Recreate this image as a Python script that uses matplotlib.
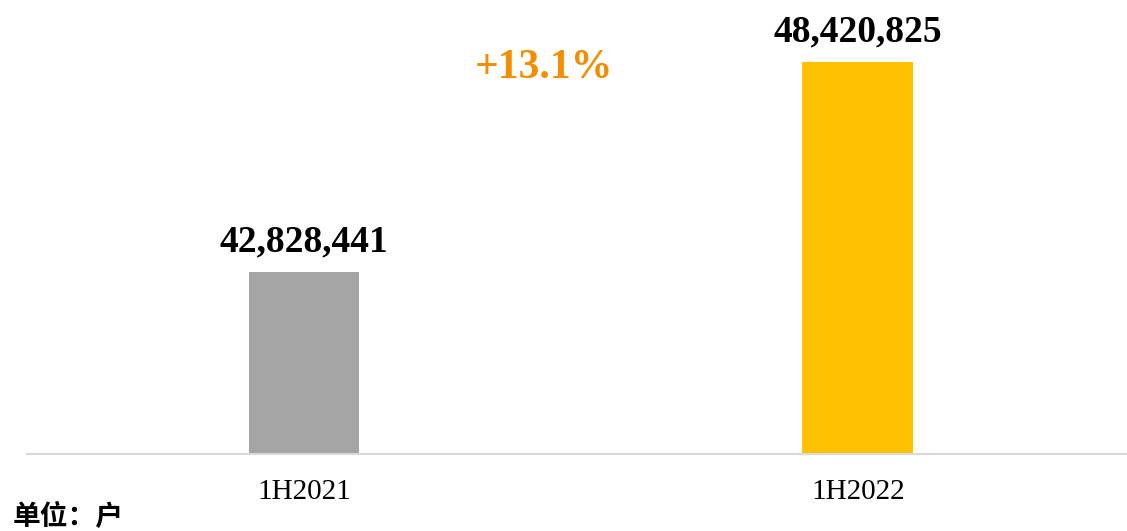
import matplotlib.pyplot as plt

# data
periods = ['1H2021', '1H2022']
users = [42828441, 48420825]
bar_colors = ['#A5A5A5', '#FFC000']
growth_label = '+13.1%'
unit_label = '单位：户'

serif = 'Liberation Serif'

fig = plt.figure(figsize=(11.27, 5.31), dpi=100)
ax = fig.add_axes([0.024, 0.145, 0.976, 0.851])

x = list(range(len(periods)))
bars = ax.bar(x, users, width=0.2, color=bar_colors, zorder=2)

for b, v in zip(bars, users):
    ax.annotate(f'{v:,}', (b.get_x() + b.get_width() / 2, v),
                xytext=(0, 9), textcoords='offset points',
                ha='center', va='bottom', fontsize=27, fontweight='bold',
                family=serif, color='black')

ax.set_ylim(38000000, 50000000)
ax.set_xlim(-0.5, 1.486)
ax.set_xticks(x)
ax.set_xticklabels(periods, family=serif, fontsize=21)
ax.tick_params(axis='x', length=0, pad=18)
ax.set_yticks([])

for s in ['left', 'right', 'top']:
    ax.spines[s].set_visible(False)
ax.spines['bottom'].set_color('#D9D9D9')
ax.spines['bottom'].set_linewidth(1.5)

ax.text(0.47, 0.832, growth_label, transform=ax.transAxes, ha='center',
        va='baseline', fontsize=30, fontweight='bold', family=serif,
        color='#F28E00')

fig.text(0.011, 0.0, unit_label, ha='left', va='bottom', fontsize=20,
         fontweight='bold', family=['Noto Sans CJK SC', 'DejaVu Sans'])

fig.savefig('out.png', dpi=100)
